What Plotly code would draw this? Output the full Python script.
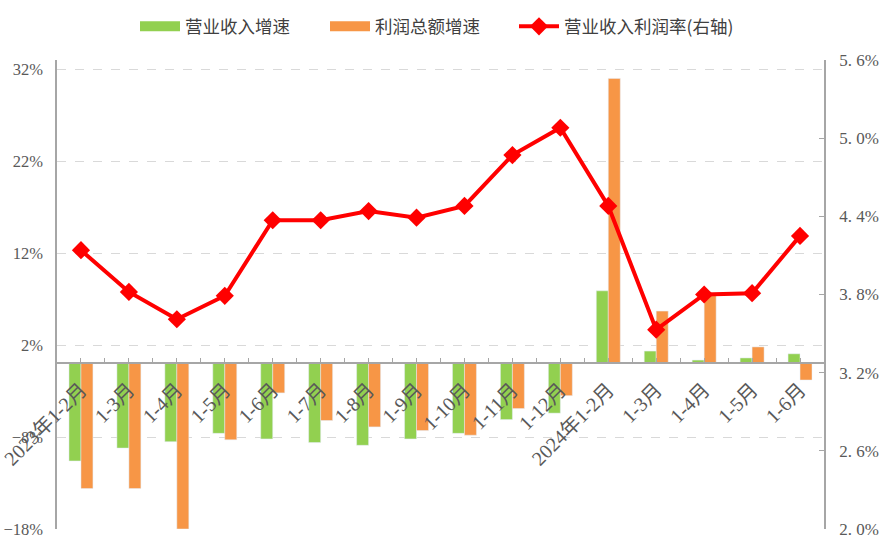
import plotly.graph_objects as go

categories = ["2023年1-2月", "1-3月", "1-4月", "1-5月", "1-6月", "1-7月", "1-8月", "1-9月",
              "1-10月", "1-11月", "1-12月", "2024年1-2月", "1-3月", "1-4月", "1-5月", "1-6月"]
revenue_growth = [-10.6, -9.2, -8.5, -7.6, -8.2, -8.6, -8.9, -8.2, -7.6, -6.1, -5.4,
                  7.9, 1.35, 0.37, 0.6, 1.05]
profit_growth = [-13.6, -13.6, -18.0, -8.3, -3.2, -6.2, -6.9, -7.3, -7.8, -4.9, -3.5,
                 31.0, 5.7, 7.4, 1.8, -1.8]
profit_margin = [4.14, 3.82, 3.61, 3.79, 4.37, 4.37, 4.44, 4.39, 4.48, 4.87, 5.08,
                 4.48, 3.53, 3.80, 3.81, 4.25]
left_ticks = [-18, -8, 2, 12, 22, 32]
left_ticktext = ["−18%", "−8%", "2%", "12%", "22%", "32%"]
right_ticks = [2.0, 2.6, 3.2, 3.8, 4.4, 5.0, 5.6]
right_ticktext = ["2. 0%", "2. 6%", "3. 2%", "3. 8%", "4. 4%", "5. 0%", "5. 6%"]
names = ["营业收入增速", "利润总额增速", "营业收入利润率(右轴)"]

GREEN = "#92D050"
ORANGE = "#F79646"
RED = "#FF0000"
FONT = "Liberation Serif, Noto Sans CJK SC, serif"
TXT = "#595959"

x = list(range(len(categories)))
LEFT_RANGE = [-18, 33]

fig = go.Figure()
fig.add_trace(go.Bar(x=x, y=revenue_growth, marker_color=GREEN, name=names[0],
                     showlegend=False, legendgroup="g"))
fig.add_trace(go.Bar(x=x, y=profit_growth, marker_color=ORANGE, name=names[1],
                     showlegend=False, legendgroup="o"))
# legend swatches
fig.add_trace(go.Scatter(x=[None], y=[None], mode="lines", line=dict(color=GREEN, width=10),
                         name=names[0], legendgroup="g", legend="legend"))
fig.add_trace(go.Scatter(x=[None], y=[None], mode="lines", line=dict(color=ORANGE, width=10),
                         name=names[1], legendgroup="o", legend="legend2"))
fig.add_trace(go.Scatter(x=x, y=profit_margin, mode="lines+markers", yaxis="y2",
                         line=dict(color=RED, width=4),
                         marker=dict(symbol="diamond", size=14, color=RED),
                         name=names[2], legend="legend3"))

zero_pos = (0 - LEFT_RANGE[0]) / (LEFT_RANGE[1] - LEFT_RANGE[0])

ML, MR, MT, MB = 57, 56, 60, 24
PW = 880 - ML - MR
PH = 553 - MT - MB


def leg(px):
    return dict(orientation="h", x=(px - ML) / PW, xanchor="left", y=1.0715, yanchor="middle",
                font=dict(family="Noto Sans CJK SC", size=17.5, color="#404040"),
                itemwidth=40, bgcolor="rgba(0,0,0,0)")


fig.update_layout(
    width=880, height=553,
    margin=dict(l=ML, r=MR, t=MT, b=MB, autoexpand=False),
    plot_bgcolor="white", paper_bgcolor="white",
    barmode="group", bargap=0.5, bargroupgap=0,
    font=dict(family=FONT, size=16, color=TXT),
    legend=leg(135), legend2=leg(325), legend3=leg(514),
    xaxis=dict(
        range=[-0.5, len(categories) - 0.5],
        tickvals=x, ticktext=categories, tickangle=-45,
        anchor="free", position=zero_pos, automargin=False,
        ticklabeloverflow="allow",
        showline=True, linecolor="#A6A6A6", linewidth=1.5,
        ticks="inside", ticklen=5, tickcolor="#A6A6A6",
        minor=dict(tick0=0.5, dtick=1, ticks="inside", ticklen=5, tickcolor="#A6A6A6"),
        showgrid=False, zeroline=False, ticklabelstandoff=6,
        tickfont=dict(family=FONT, size=20, color=TXT),
    ),
    yaxis=dict(
        range=LEFT_RANGE, tickvals=left_ticks, ticktext=left_ticktext, automargin=False,
        showline=True, linecolor="#A6A6A6", linewidth=1.5,
        showgrid=True, gridcolor="#D9D9D9", griddash="dash", gridwidth=1,
        zeroline=False, ticks="", ticklabelstandoff=9,
        tickfont=dict(family=FONT, size=16.5, color=TXT),
    ),
    yaxis2=dict(
        range=[2.0, 5.6], tickvals=right_ticks, ticktext=right_ticktext, automargin=False,
        overlaying="y", side="right", anchor="x",
        showline=True, linecolor="#A6A6A6", linewidth=1.5,
        ticks="inside", ticklen=5, tickcolor="#A6A6A6",
        showgrid=False, zeroline=False, ticklabelstandoff=10,
        tickfont=dict(family=FONT, size=17, color=TXT),
    ),
)

fig.write_html("out.html", config={"displayModeBar": False},
               post_script="document.body.style.margin='0';")
